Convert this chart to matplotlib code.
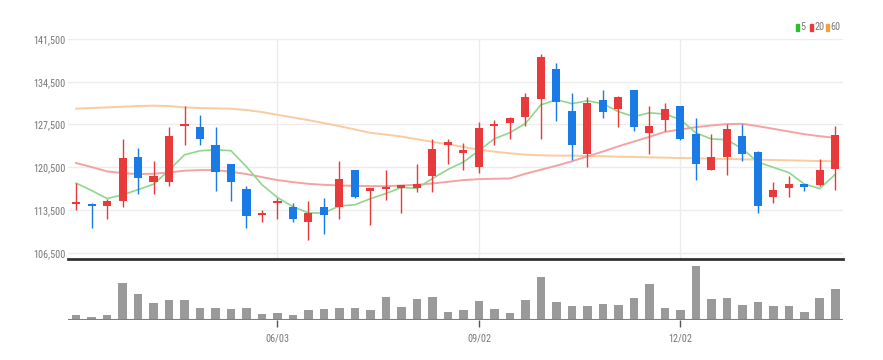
import matplotlib
matplotlib.use("Agg")
import matplotlib.pyplot as plt
from matplotlib.patches import Rectangle
from matplotlib import font_manager
from matplotlib.font_manager import FontProperties
import numpy as np
import pandas as pd

# ---------------- data ----------------
dates = pd.date_range("2024-03-04", periods=50, freq="W-MON")
shown_ticks = ["06/03", "09/02", "12/02"]

opens = [114500, 114500, 114100, 115000, 122100, 118100, 118100, 127300, 127100, 124100,
         121000, 117000, 112700, 114600, 114000, 111500, 114000, 114000, 120000, 116600,
         116900, 117100, 117100, 119100, 124200, 122900, 120600, 127200, 127700, 128700,
         131600, 136600, 129700, 122600, 131500, 130100, 133100, 126100, 128200, 130500,
         126000, 120100, 122200, 125600, 123000, 115600, 117100, 117700, 117600, 120200]
highs = [117900, 114600, 115300, 125100, 123700, 121600, 127100, 130500, 129100, 127100,
         121100, 117500, 113500, 115400, 114600, 114900, 115400, 121600, 120100, 117100,
         120100, 117600, 121000, 125100, 125100, 124500, 127900, 128200, 128700, 132600,
         139100, 137500, 132600, 132000, 133100, 132100, 133200, 130500, 131100, 130600,
         128600, 126000, 127600, 127600, 123100, 118100, 119000, 117800, 121900, 127200]
lows = [113500, 110600, 112000, 114000, 116100, 116100, 117500, 124200, 124200, 116600,
        115000, 110600, 111500, 112000, 111500, 108600, 109500, 112000, 115500, 111000,
        115100, 113000, 116500, 116500, 121000, 120100, 119600, 124100, 125100, 127200,
        125100, 128000, 121700, 120600, 128500, 127100, 126400, 122700, 126500, 125000,
        118400, 120000, 119200, 121600, 113000, 114600, 115600, 116600, 117400, 116700]
closes = [114500, 114100, 114900, 122000, 118700, 119000, 125600, 127500, 125200, 119700,
          118100, 112500, 112800, 114700, 112100, 113000, 112600, 118600, 115600, 117100,
          117200, 117600, 117800, 123500, 124600, 123200, 126900, 127600, 128600, 132000,
          138500, 131200, 124200, 131000, 129600, 132000, 127100, 127300, 130000, 125100,
          121100, 122100, 126700, 122700, 114200, 116800, 117800, 117300, 120000, 125700]
volumes = [15, 10, 16, 110, 76, 49, 60, 60, 35, 37,
           33, 35, 17, 22, 15, 30, 32, 35, 35, 30,
           69, 38, 62, 69, 24, 31, 56, 32, 22, 59,
           128, 52, 41, 42, 47, 45, 64, 107, 37, 30,
           159, 62, 64, 45, 54, 40, 40, 24, 65, 91]
ma5 = [117890, 116690, 115370, 115970, 116830, 117720, 120010, 122540, 123190, 123380,
       123200, 120580, 117640, 115540, 114030, 113010, 113020, 114170, 114350, 115350,
       116190, 117190, 117050, 118640, 120140, 121350, 123220, 125160, 126170, 127650,
       130710, 131570, 130910, 131380, 130910, 129610, 128790, 129410, 129210, 128310,
       126130, 125130, 125000, 123540, 121340, 120480, 119630, 117750, 117010, 119320]
ma20 = [121190, 120530, 119820, 119540, 119380, 119430, 119650, 119930, 120030, 120030,
        119760, 119380, 118880, 118390, 118060, 117780, 117620, 117510, 117450, 117400,
        117400, 117510, 117620, 117840, 118110, 118390, 118550, 118610, 118660, 119430,
        120090, 120750, 121460, 122290, 123060, 123930, 124700, 125470, 126290, 126680,
        127060, 127340, 127560, 127610, 127230, 126790, 126350, 125910, 125580, 125310]
ma60 = [130080, 130190, 130300, 130410, 130520, 130580, 130520, 130300, 130190, 130140,
        130080, 129860, 129530, 129090, 128650, 128210, 127720, 127230, 126680, 126130,
        125850, 125520, 125090, 124650, 124260, 123820, 123380, 123050, 122780, 122560,
        122450, 122400, 122400, 122340, 122290, 122230, 122180, 122120, 122070, 122010,
        121960, 121900, 121850, 121790, 121740, 121680, 121630, 121570, 121520, 121460]
y_ticks = [106500, 113500, 120500, 127500, 134500, 141500]
legend_labels = ["5", "20", "60"]

# ---------------- style ----------------
UP = "#e83a3a"
DOWN = "#1a7ae6"
C5, C20, C60 = "#8ed88e", "#f4a3a3", "#f9cba0"
L5, L20, L60 = "#2cbf2c", "#e83a3a", "#f4a040"
GRID = "#ececec"
TXT = "#777777"


def pick_font():
    cands = []
    for f in font_manager.fontManager.ttflist:
        n = f.name.lower()
        fn = f.fname.lower()
        narrow = ("narrow" in n or "condensed" in n or "narrow" in fn or "condensed" in fn)
        if narrow and f.style == "normal" and f.weight in (400, "normal", "regular"):
            score = 0
            if "liberation" in fn:
                score = 3
            elif "roboto" in fn:
                score = 2
            elif "dejavu" in fn:
                score = 1
            cands.append((score, f.fname))
    if cands:
        cands.sort(reverse=True)
        fname = cands[0][1]
        size = 7.3 if "liberation" in fname.lower() or "roboto" in fname.lower() else 6.6
        return FontProperties(fname=fname, size=size)
    return FontProperties(family="Liberation Sans", size=6.8)


FP = pick_font()
FS = FP.get_size()

W, H = 883, 360
fig = plt.figure(figsize=(W / 100, H / 100), dpi=100)
ax = fig.add_axes([68 / W, 1 - 259 / H, (843 - 68) / W, (259 - 39) / H])
axv = fig.add_axes([68 / W, 1 - 320 / H, (843 - 68) / W, (320 - 262) / H])

x = np.arange(len(closes))
o = np.array(opens); c = np.array(closes); hi = np.array(highs); lo = np.array(lows)
up = c >= o
cols = np.where(up, UP, DOWN)

# grid
for yt in y_ticks:
    ax.axhline(yt, color=GRID, lw=1, zorder=0)
tick_idx = [list(dates.strftime("%m/%d")).index(t) for t in shown_ticks]
for ti in tick_idx:
    ax.axvline(ti, color=GRID, lw=1, zorder=0)

# moving averages
ax.plot(x, ma60, color=C60, lw=1.4, zorder=1)
ax.plot(x, ma20, color=C20, lw=1.4, zorder=1)
ax.plot(x, ma5, color=C5, lw=1.2, zorder=1)

# candles
ax.vlines(x, lo, hi, colors=cols, lw=1.0, zorder=2)
body_bottom = np.minimum(o, c)
body_h = np.maximum(np.abs(c - o), 350)
ax.bar(x, body_h, bottom=body_bottom, width=0.52, color=cols, zorder=3, linewidth=0)

ax.set_xlim(-0.52, 49.5)
ax.set_ylim(105470, 141500)
ax.set_yticks(y_ticks)
ax.set_yticklabels([f"{v:,}" for v in y_ticks])
ax.set_xticks([])
ax.tick_params(axis="y", length=0, pad=2, labelcolor=TXT)
for lab in ax.get_yticklabels():
    lab.set_fontproperties(FP)
for s in ["top", "right", "left"]:
    ax.spines[s].set_visible(False)
ax.spines["bottom"].set_color("#333333")
ax.spines["bottom"].set_linewidth(2)

# volume
axv.bar(x, volumes, width=0.55, color="#9a9a9a", linewidth=0, zorder=2)
axv.axhline(0, color="#808080", lw=1.5, zorder=3)
axv.set_xlim(-0.52, 49.5)
axv.set_ylim(0, max(volumes) * 1.08)
axv.set_yticks([])
axv.set_xticks(tick_idx)
axv.set_xticklabels(shown_ticks)
axv.tick_params(axis="x", length=5, width=1, color="#555555", labelcolor=TXT, pad=5)
for lab in axv.get_xticklabels():
    lab.set_fontproperties(FP)
for s in ["top", "right", "left", "bottom"]:
    axv.spines[s].set_visible(False)

# legend
lx = [795.5, 810, 826]
tx = [800, 814.5, 830]
for px, t, lab, col in zip(lx, tx, legend_labels, [L5, L20, L60]):
    fig.patches.append(Rectangle((px / W, 1 - 30.5 / H), 3.2 / W, 6 / H,
                                 transform=fig.transFigure, color=col, figure=fig))
    fig.text(t / W, 1 - 27.5 / H, lab, fontproperties=FP, color=TXT,
             va="center", ha="left")

fig.savefig("out.png", dpi=100)
